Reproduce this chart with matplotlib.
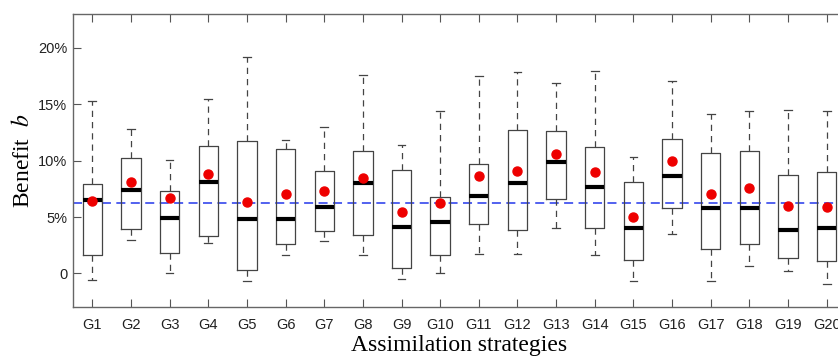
import matplotlib
matplotlib.use('Agg')
import matplotlib.pyplot as plt
from matplotlib.ticker import FuncFormatter

plt.rcParams['mathtext.fontset'] = 'stix'

labels = ['G%d' % i for i in range(1, 21)]

# box statistics in percent
whis_lo = [-0.6, 3.0, 0.0, 2.7, -0.7, 1.6, 2.9, 1.6, -0.5, 0.0,
           1.7, 1.7, 4.0, 1.6, -0.7, 3.5, -0.7, 0.7, 0.2, -0.9]
q1 = [1.65, 3.9, 1.8, 3.35, 0.33, 2.6, 3.8, 3.4, 0.5, 1.6,
      4.35, 3.85, 6.6, 4.05, 1.2, 5.8, 2.2, 2.6, 1.4, 1.1]
med = [6.55, 7.4, 4.9, 8.1, 4.87, 4.87, 5.87, 8.05, 4.13, 4.6,
       6.9, 8.03, 9.88, 7.7, 4.02, 8.65, 5.84, 5.84, 3.84, 4.04]
q3 = [7.95, 10.2, 7.3, 11.3, 11.75, 11.0, 9.05, 10.9, 9.2, 6.8,
      9.7, 12.75, 12.6, 11.25, 8.15, 11.95, 10.7, 10.9, 8.7, 9.0]
whis_hi = [15.3, 12.8, 10.05, 15.5, 19.2, 11.85, 13.0, 17.6, 11.35, 14.45,
           17.5, 17.9, 16.9, 17.95, 10.3, 17.1, 14.15, 14.45, 14.5, 14.45]
means = [6.4, 8.1, 6.7, 8.8, 6.37, 7.08, 7.3, 8.45, 5.43, 6.28,
         8.65, 9.1, 10.6, 9.0, 5.0, 9.95, 7.05, 7.6, 5.95, 5.9]
overall_mean = 6.23

stats = []
for i in range(len(labels)):
    stats.append({'label': labels[i], 'whislo': whis_lo[i] / 100, 'q1': q1[i] / 100,
                  'med': med[i] / 100, 'q3': q3[i] / 100, 'whishi': whis_hi[i] / 100,
                  'mean': means[i] / 100, 'fliers': []})

fig = plt.figure(figsize=(8.38, 3.58), dpi=100)
# axes runs past the right edge, as in the cropped original
ax = fig.add_axes([0.0871, 0.1416, 0.9224, 0.819])

ax.axhline(overall_mean / 100, color='#4455ee', linestyle=(0, (5, 3)), linewidth=1.3, zorder=1)

ax.bxp(stats, widths=0.5, capwidths=0.2, showmeans=True, showfliers=False,
       boxprops=dict(color='#444444', linewidth=0.9),
       medianprops=dict(color='black', linewidth=3, solid_capstyle='butt'),
       whiskerprops=dict(color='#444444', linewidth=0.9, linestyle=(0, (5, 4))),
       capprops=dict(color='#444444', linewidth=0.9),
       meanprops=dict(marker='o', markerfacecolor='#ee0000', markeredgecolor='#ee0000',
                      markersize=6.5),
       zorder=2)

ax.set_xlim(0.5, 20.5)
ax.set_ylim(-0.03, 0.23)
ax.set_yticks([0, 0.05, 0.10, 0.15, 0.20])
ax.yaxis.set_major_formatter(FuncFormatter(lambda v, p: '0' if abs(v) < 1e-9 else '%d%%' % round(v * 100)))

for s in ax.spines.values():
    s.set_color('#666666')
    s.set_linewidth(1.0)
ax.tick_params(axis='both', direction='in', length=6, color='#555555',
               labelsize=10.5, labelcolor='#222222')
ax.tick_params(axis='x', top=True, pad=8)
ax.tick_params(axis='y', pad=4)
for t in ax.get_xticklabels() + ax.get_yticklabels():
    t.set_fontfamily('Liberation Sans')

ax.set_xlabel('Assimilation strategies', fontfamily='Liberation Serif', fontsize=17, labelpad=2)
ax.set_ylabel('Benefit  $\\mathit{b}$', fontfamily='Liberation Serif', fontsize=17, labelpad=3)

fig.savefig('out.png', dpi=100)
